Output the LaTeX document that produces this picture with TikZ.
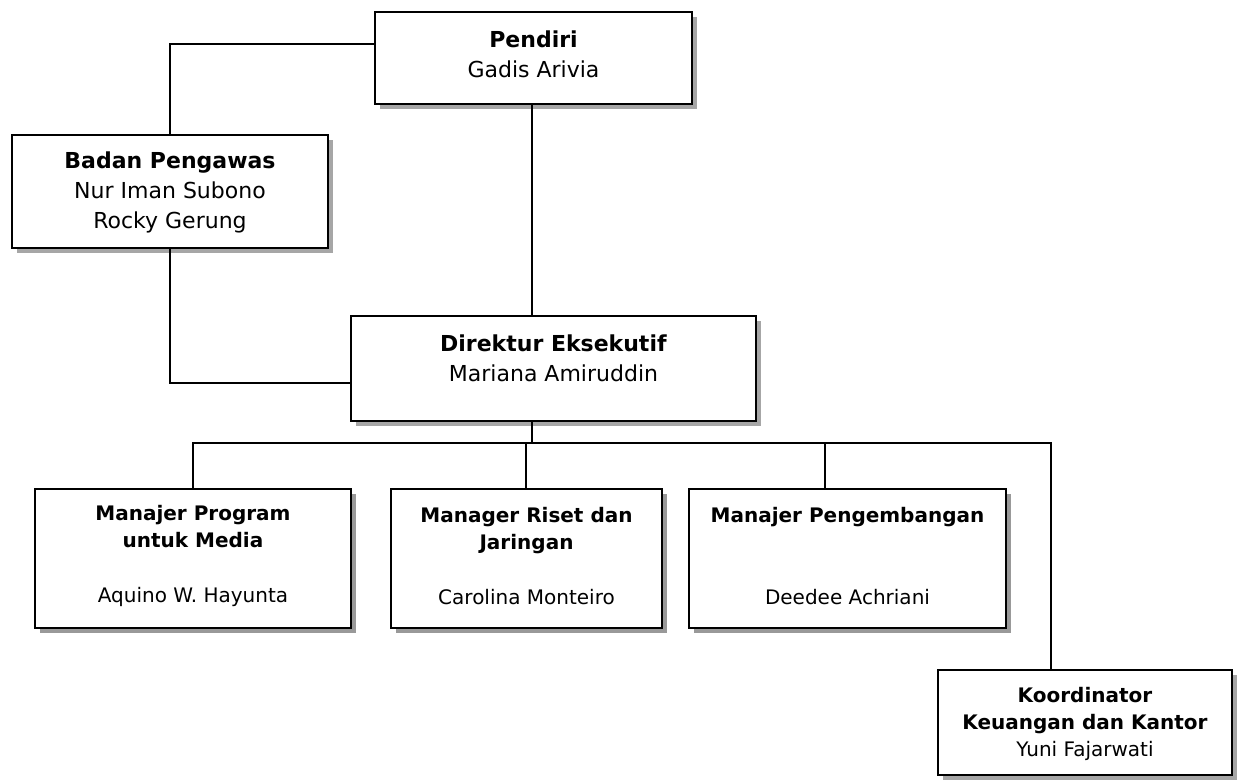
\documentclass[tikz,border=0pt]{standalone}
\usepackage{fontspec}
\setmainfont{DejaVu Sans}
\usepackage{tikz}
\usetikzlibrary{shadows}

\tikzset{
  headbox/.style={draw, line width=1.4pt, fill=white, inner sep=0pt,
    drop shadow={shadow xshift=3.75pt, shadow yshift=-3.75pt, fill=gray!70, opacity=1}},
  staffbox/.style={draw, line width=1.4pt, fill=white, inner sep=0pt,
    drop shadow={shadow xshift=3.75pt, shadow yshift=-3.75pt, fill=gray!80, opacity=1}},
  headtext/.style={align=center, font=\fontsize{16.5}{22.5}\selectfont},
  stafftext/.style={align=center, font=\fontsize{15}{20.25}\selectfont},
  link/.style={line width=1.1pt}
}

\begin{document}
\begin{tikzpicture}[x=0.75pt, y=-0.75pt]
            \useasboundingbox (0,0) rectangle (1239,779);

            % Draw the top boxes
            \node[headbox, minimum width=237.75pt, minimum height=69pt,
                  label={[headtext, yshift=3pt]center:{\textbf{Pendiri}\\Gadis Arivia}}] (pendiri) at (533.5,58) {};
            \node[headbox, minimum width=237pt, minimum height=84.75pt,
                  label={[headtext, yshift=-1pt]center:{\textbf{Badan Pengawas}\\Nur Iman Subono\\Rocky Gerung}}] (badan) at (170,191.5) {};
            \node[headbox, minimum width=303.75pt, minimum height=78.75pt,
                  label={[headtext, yshift=7.5pt]center:{\textbf{Direktur Eksekutif}\\Mariana Amiruddin}}] (direktur) at (553.5,368.5) {};

            % Draw the staff row
            \node[staffbox, minimum width=237pt, minimum height=104.25pt,
                  label={[stafftext, yshift=2pt]center:{\textbf{Manajer Program}\\\textbf{untuk Media}\\[21pt]Aquino W. Hayunta}}] (program) at (193,558.5) {};
            \node[staffbox, minimum width=203.25pt, minimum height=104.25pt,
                  label={[stafftext, yshift=2pt]center:{\textbf{Manager Riset dan}\\\textbf{Jaringan}\\[21pt]Carolina Monteiro}}] (riset) at (526.5,558.5) {};
            \node[staffbox, minimum width=237.75pt, minimum height=104.25pt,
                  label={[stafftext, yshift=2pt]center:{\textbf{Manajer Pengembangan}\\[41.25pt]Deedee Achriani}}] (pengembangan) at (847.5,558.5) {};
            \node[headbox, minimum width=220.5pt, minimum height=78.75pt,
                  label={[stafftext, yshift=-1pt]center:{\textbf{Koordinator}\\\textbf{Keuangan dan Kantor}\\Yuni Fajarwati}}] (koordinator) at (1085,722.5) {};

            % Connect Pendiri, Badan Pengawas and Direktur
            \coordinate (bus) at (532,443);
            \draw[link] ([yshift=10.5pt]pendiri.west) -| (badan.north);
            \draw[link] (bus |- pendiri.south) -- (bus |- direktur.north);
            \draw[link] (badan.south) |- ([yshift=-10.9pt]direktur.west);

            % Connect Direktur to the staff
            \draw[link] (bus |- direktur.south) -- (bus);
            \draw[link] (program.north) |- (bus) -| ([xshift=-25.5pt]koordinator.north);
            \draw[link] ([xshift=-0.4pt]riset.north) -- ++(0,-46);
            \draw[link] ([xshift=-16.9pt]pengembangan.north) -- ++(0,-46);
        \end{tikzpicture}
\end{document}
